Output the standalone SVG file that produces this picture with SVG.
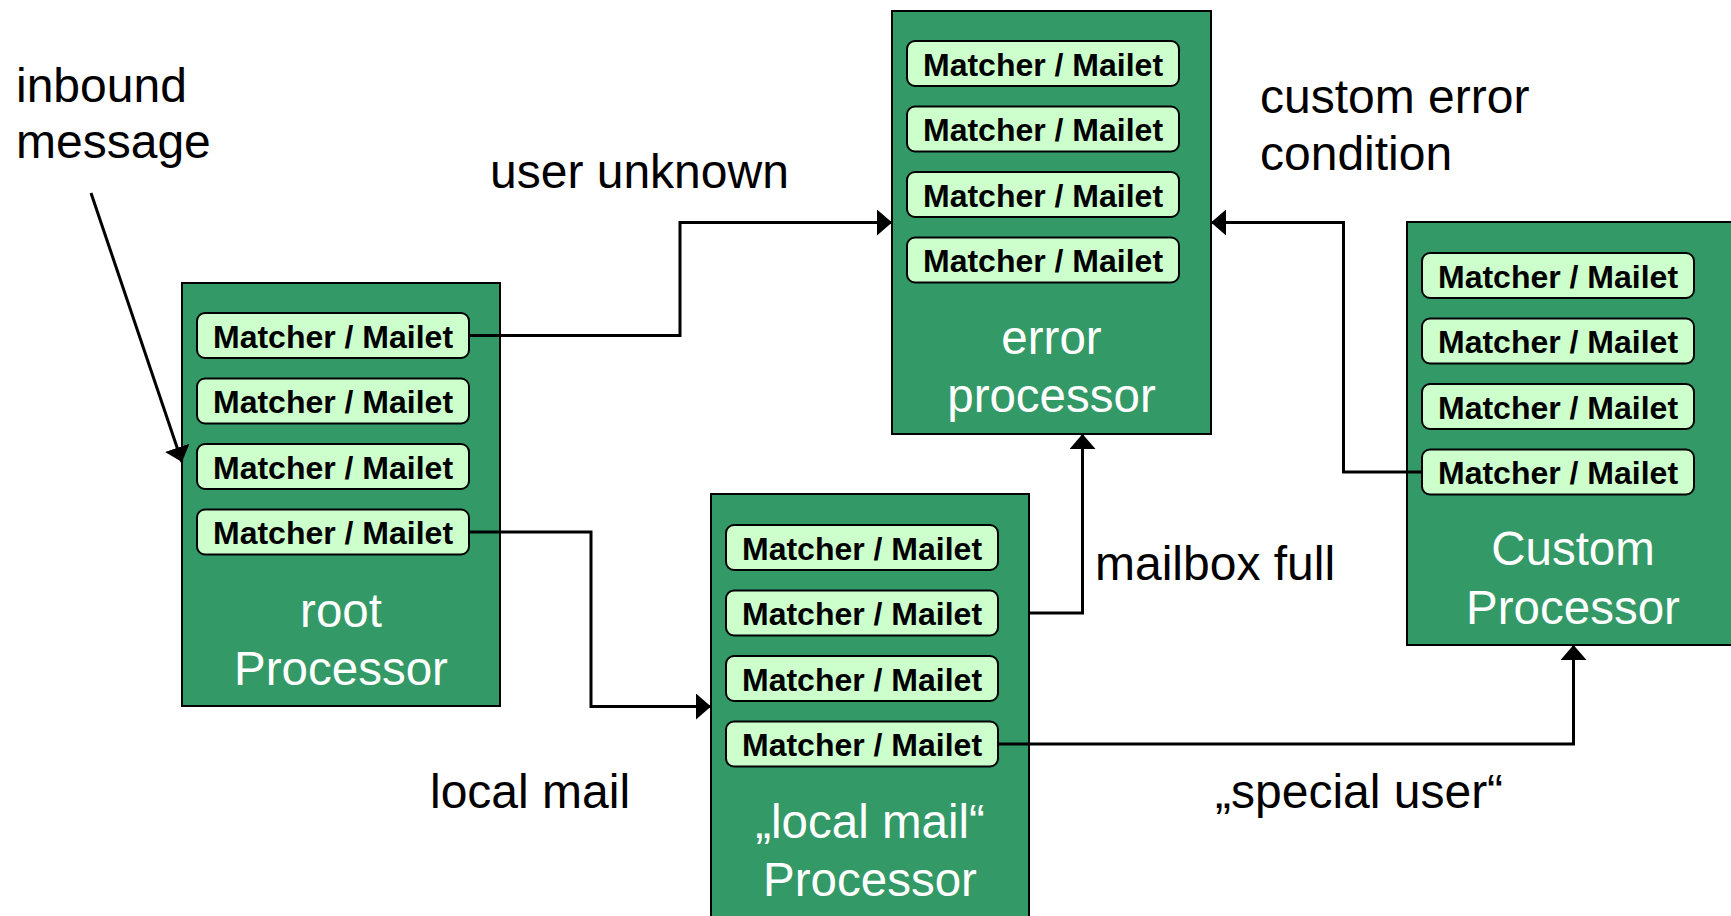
<svg xmlns="http://www.w3.org/2000/svg" width="1731" height="916" viewBox="0 0 1731 916">
  <defs>
    <style>
      .proc { fill: #339966; stroke: #000; stroke-width: 2; }
      .pill { fill: #ccffcc; stroke: #000; stroke-width: 2; }
      .pt { font-family: "Liberation Sans", Arial, Helvetica, sans-serif; font-weight: bold; font-size: 32px; fill: #000; text-anchor: middle; }
      .pl { font-family: "Liberation Sans", Arial, Helvetica, sans-serif; font-size: 47.5px; fill: #fff; text-anchor: middle; }
      .lbl { font-family: "Liberation Sans", Arial, Helvetica, sans-serif; font-size: 48px; fill: #000; }
      .wire { fill: none; stroke: #000; stroke-width: 3; stroke-linejoin: miter; marker-end: url(#head); }
    </style>
    <marker id="head" markerUnits="userSpaceOnUse" markerWidth="16" markerHeight="26" viewBox="0 0 16 26" refX="15" refY="13" orient="auto">
      <path d="M0,0 L15,13 L0,26 Z" fill="#000"/>
    </marker>
    <g id="mm">
      <rect class="pill" x="0" y="0" width="272" height="45" rx="8" ry="8"/>
      <text class="pt" x="136" y="34.7">Matcher / Mailet</text>
    </g>
  </defs>

  <rect width="1731" height="916" fill="#fff"/>

  <!-- root processor -->
  <g id="root">
    <rect class="proc" x="182" y="283" width="318" height="423"/>
    <use href="#mm" x="197" y="313"/>
    <use href="#mm" x="197" y="378.5"/>
    <use href="#mm" x="197" y="444"/>
    <use href="#mm" x="197" y="509.5"/>
    <text class="pl" x="341" y="627">root</text>
    <text class="pl" x="341" y="685">Processor</text>
  </g>

  <!-- error processor -->
  <g id="error">
    <rect class="proc" x="892" y="11" width="319" height="423"/>
    <use href="#mm" x="907" y="41"/>
    <use href="#mm" x="907" y="106.5"/>
    <use href="#mm" x="907" y="172"/>
    <use href="#mm" x="907" y="237.5"/>
    <text class="pl" x="1051.5" y="354">error</text>
    <text class="pl" x="1051.5" y="412">processor</text>
  </g>

  <!-- local mail processor -->
  <g id="localmail">
    <rect class="proc" x="711" y="494" width="318" height="430"/>
    <use href="#mm" x="726" y="525"/>
    <use href="#mm" x="726" y="590.5"/>
    <use href="#mm" x="726" y="656"/>
    <use href="#mm" x="726" y="721.5"/>
    <text class="pl" x="870" y="838">„local mail“</text>
    <text class="pl" x="870" y="896">Processor</text>
  </g>

  <!-- custom processor -->
  <g id="custom">
    <rect class="proc" x="1407" y="222" width="340" height="423"/>
    <use href="#mm" x="1422" y="253"/>
    <use href="#mm" x="1422" y="318.5"/>
    <use href="#mm" x="1422" y="384"/>
    <use href="#mm" x="1422" y="449.5"/>
    <text class="pl" x="1573" y="565">Custom</text>
    <text class="pl" x="1573" y="624">Processor</text>
  </g>

  <!-- connectors -->
  <g id="connectors">
    <path class="wire" d="M91,193 L182,462"/>
    <path class="wire" d="M469,335.5 H680 V222.5 H892"/>
    <path class="wire" d="M469,532 H591 V706.5 H711"/>
    <path class="wire" d="M1029,613 H1082.5 V434"/>
    <path class="wire" d="M998,744 H1573.5 V645"/>
    <path class="wire" d="M1422,472 H1343.5 V222.5 H1211"/>
  </g>

  <!-- connector labels -->
  <g id="labels">
    <text class="lbl" x="16" y="102">inbound</text>
    <text class="lbl" x="16" y="158">message</text>
    <text class="lbl" x="490" y="188">user unknown</text>
    <text class="lbl" x="1260" y="113">custom error</text>
    <text class="lbl" x="1260" y="170">condition</text>
    <text class="lbl" x="1095" y="580">mailbox full</text>
    <text class="lbl" x="430" y="808">local mail</text>
    <text class="lbl" x="1215" y="808">„special user“</text>
  </g>
</svg>
